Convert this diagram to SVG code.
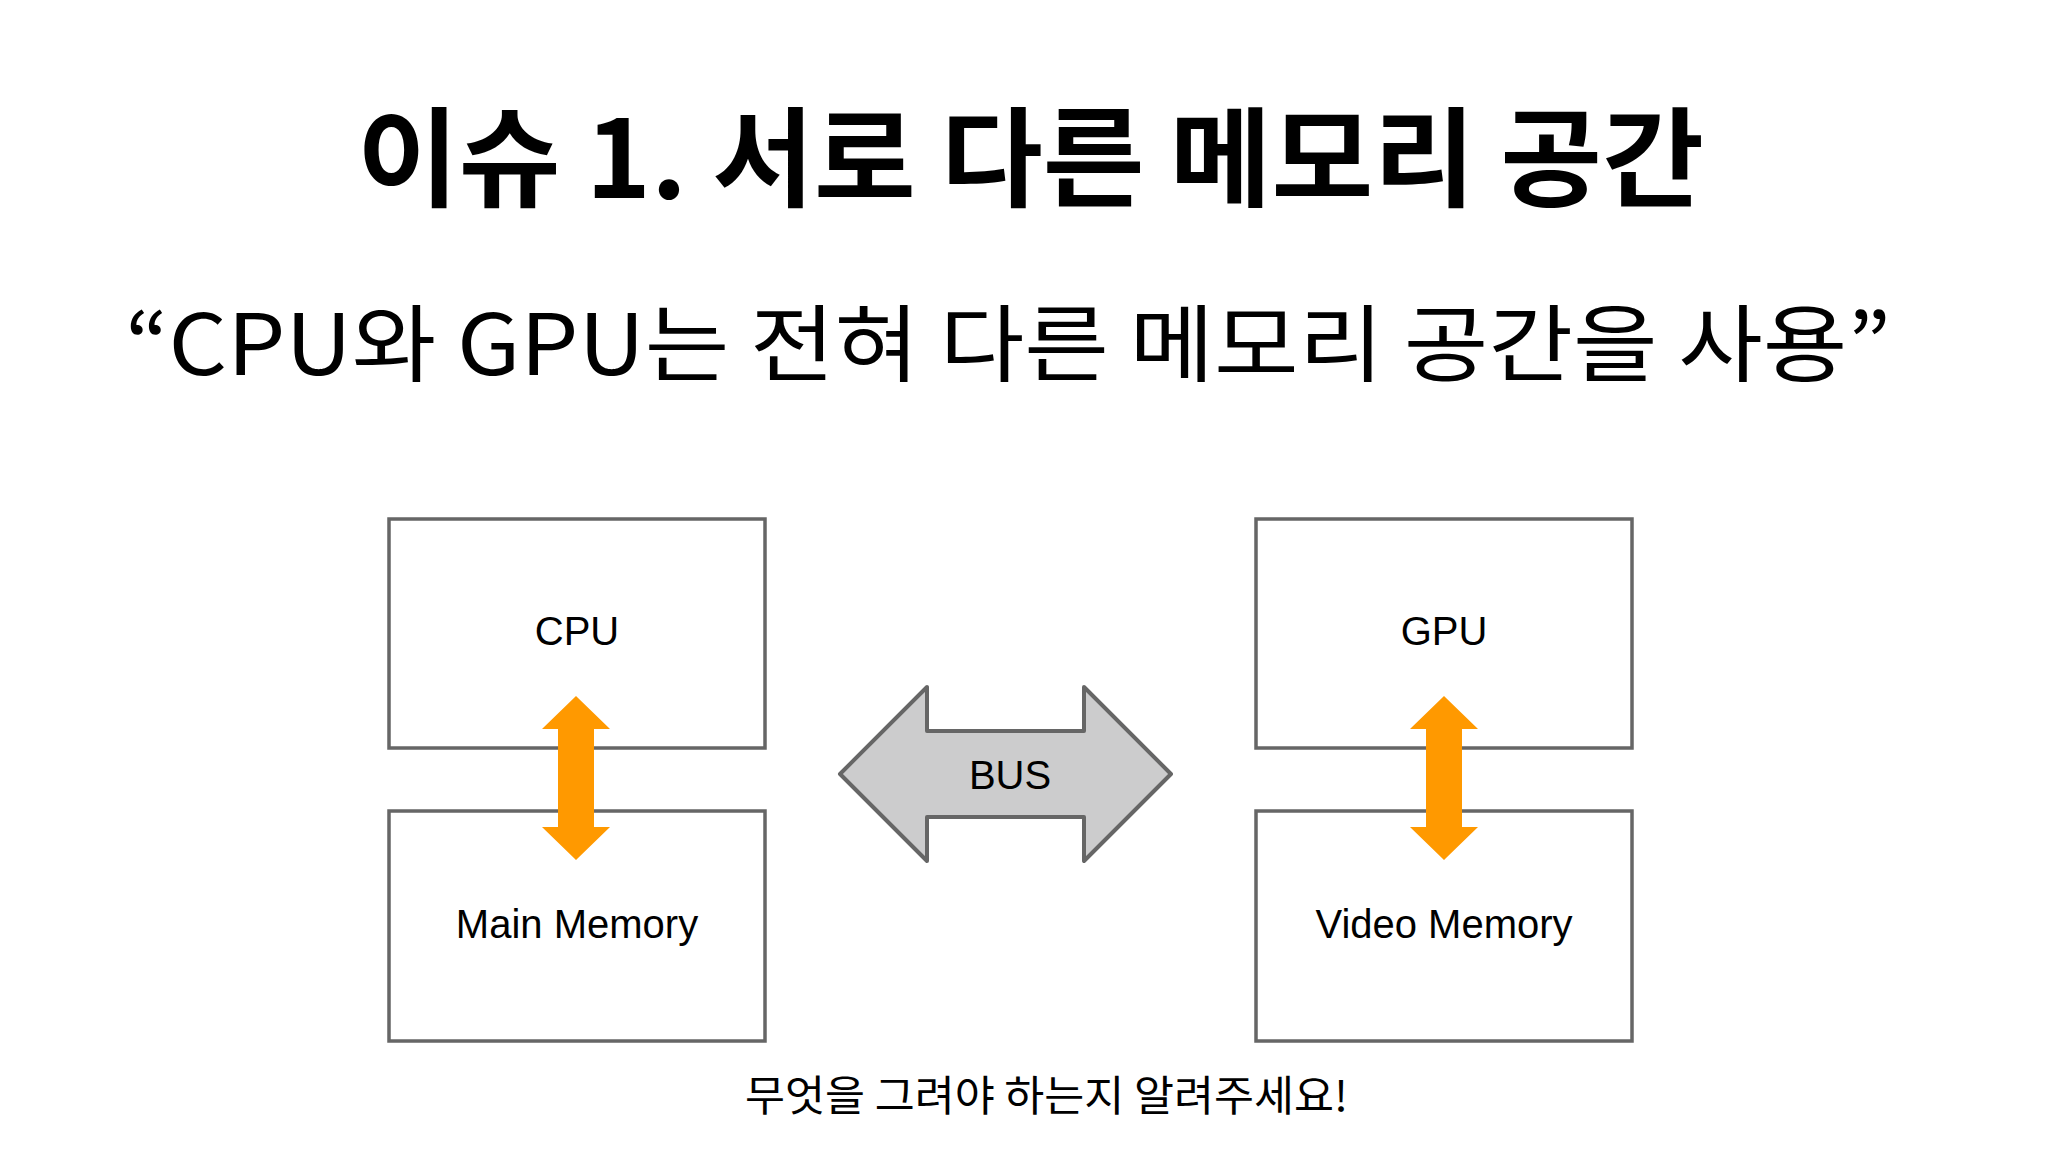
<svg xmlns="http://www.w3.org/2000/svg" width="2048" height="1152" viewBox="0 0 2048 1152">
<style>
.box{fill:#fff;stroke:#666;stroke-width:3.5}
.lbl{font-family:"Liberation Sans","Noto Sans CJK KR",sans-serif;font-size:40px;fill:#000;text-anchor:middle}
.kr{font-family:"Noto Sans CJK KR",sans-serif;fill:#000}
.or{fill:#ff9900}
</style>
<rect width="2048" height="1152" fill="#fff"/>
<text class="kr" x="357" y="198" font-size="108" font-weight="bold" textLength="1347" lengthAdjust="spacingAndGlyphs">이슈 1. 서로 다른 메모리 공간</text>
<text class="kr" x="125" y="375" font-size="84" textLength="1766" lengthAdjust="spacingAndGlyphs">“CPU와 GPU는 전혀 다른 메모리 공간을 사용”</text>
<g id="cpu"><rect class="box" x="389" y="519" width="376" height="229"/><text class="lbl" x="577" y="645">CPU</text></g>
<g id="main-memory"><rect class="box" x="389" y="811" width="376" height="230"/><text class="lbl" x="577" y="938">Main Memory</text></g>
<g id="gpu"><rect class="box" x="1256" y="519" width="376" height="229"/><text class="lbl" x="1444" y="645">GPU</text></g>
<g id="video-memory"><rect class="box" x="1256" y="811" width="376" height="230"/><text class="lbl" x="1444" y="938">Video Memory</text></g>
<g id="connectors">
<path class="or" d="M576 696 L610 729 L594 729 L594 827 L610 827 L576 860 L542 827 L558 827 L558 729 L542 729 Z"/>
<path class="or" d="M1444 696 L1478 729 L1462 729 L1462 827 L1478 827 L1444 860 L1410 827 L1426 827 L1426 729 L1410 729 Z"/>
<g id="bus">
<path d="M840 774 L927 687 L927 731 L1084 731 L1084 687 L1171 774 L1084 861 L1084 817 L927 817 L927 861 Z" fill="#cccccd" stroke="#666" stroke-width="4" stroke-linejoin="round"/>
<text class="lbl" x="1010" y="789">BUS</text>
</g>
</g>
<text class="kr" x="745" y="1111" font-size="42" textLength="603" lengthAdjust="spacingAndGlyphs">무엇을 그려야 하는지 알려주세요!</text>
</svg>
